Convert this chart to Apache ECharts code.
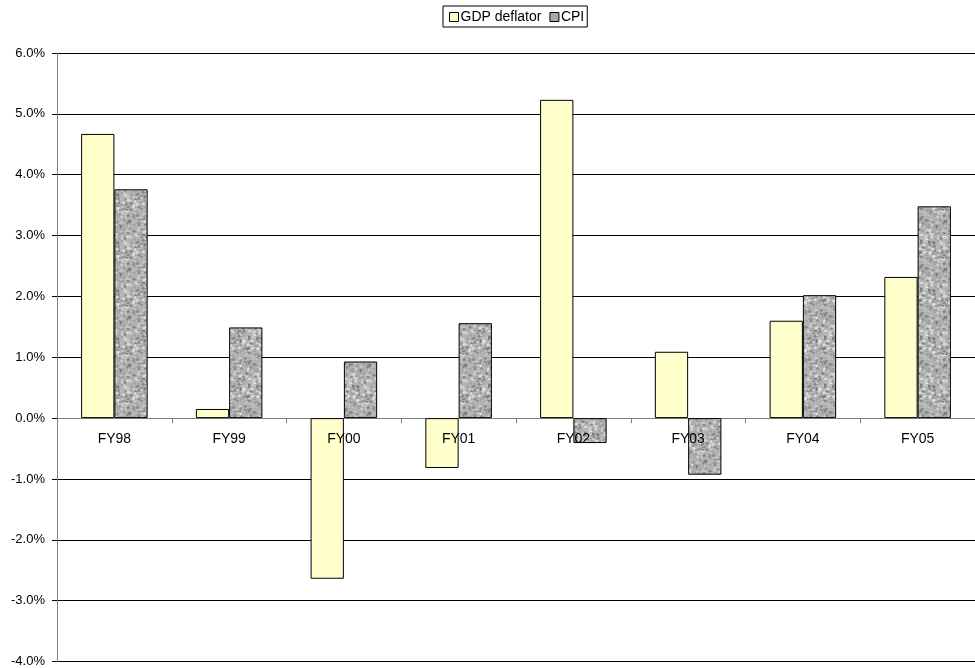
<!DOCTYPE html>
<html>
<head>
<meta charset="utf-8">
<script src="https://cdn.jsdelivr.net/npm/echarts@6/dist/echarts.min.js"></script>
<style>
  html, body { margin: 0; padding: 0; background: #fff; }
  #chart { width: 975px; height: 668px; }
</style>
</head>
<body>
<div id="chart"></div>
<script>
// Fiscal years on the category axis
const categories = ['FY98', 'FY99', 'FY00', 'FY01', 'FY02', 'FY03', 'FY04', 'FY05'];
// Annual change, percent
const gdpDeflator = [4.67, 0.15, -2.64, -0.82, 5.23, 1.09, 1.60, 2.32];
const cpi = [3.76, 1.49, 0.93, 1.56, -0.41, -0.93, 2.02, 3.48];
// Value axis range and step, percent
const yMin = -4, yMax = 6, yStep = 1;

// Plot frame
const gridTop = 53, gridBottom = 6, gridLeft = 57, gridWidth = 926;
const gridHeight = 668 - gridTop - gridBottom;
// Distance of the zero line above the bottom edge of the plot
const zeroLift = (0 - yMin) / (yMax - yMin) * gridHeight;

// Mottled grey fill used for the CPI bars (deterministic texture)
function makeGranite() {
  const size = 48;
  const c = document.createElement('canvas');
  c.width = size; c.height = size;
  const ctx = c.getContext('2d');
  ctx.fillStyle = '#b2b2b2';
  ctx.fillRect(0, 0, size, size);
  let s = 12345;
  const next = () => { s = (s * 1103515245 + 12345) & 0x7fffffff; return s / 0x7fffffff; };
  const tones = ['#8c8c8c', '#9c9c9c', '#cfcfcf', '#c4c4c4', '#7e7e7e', '#dcdcdc', '#a4a4a4'];
  for (let i = 0; i < 420; i++) {
    const x = next() * size, y = next() * size;
    const r = 0.6 + next() * 1.2;
    const k = 0.6 + next() * 0.6;
    ctx.fillStyle = tones[Math.floor(next() * tones.length)];
    for (const dx of [-size, 0, size]) for (const dy of [-size, 0, size]) {
      ctx.beginPath();
      ctx.ellipse(x + dx, y + dy, r, r * k, 0, 0, Math.PI * 2);
      ctx.fill();
    }
  }
  return c;
}
const granite = makeGranite();

const chart = echarts.init(document.getElementById('chart'), null, { renderer: 'canvas' });
const font = '"Liberation Sans", Arial, sans-serif';

chart.setOption({
  animation: false,
  backgroundColor: '#ffffff',
  textStyle: { fontFamily: font },
  legend: {
    top: 6,
    left: 443,
    itemWidth: 9,
    itemHeight: 9,
    itemGap: 8,
    padding: [4, 3, 3, 6],
    borderColor: '#000',
    borderWidth: 1,
    textStyle: { fontFamily: font, fontSize: 14, color: '#000', padding: [0, 0, 0, -3] },
    data: [
      { name: 'GDP deflator', icon: 'rect', itemStyle: { color: '#ffffcc', borderColor: '#000', borderWidth: 1 } },
      { name: 'CPI', icon: 'rect', itemStyle: { color: '#a8a8ae', borderColor: '#000', borderWidth: 1 } }
    ]
  },
  grid: { left: gridLeft, top: gridTop, bottom: gridBottom, width: gridWidth, containLabel: false },
  xAxis: [
    {
      // zero line with boundary ticks
      type: 'category',
      data: categories,
      axisLine: { onZero: true, lineStyle: { color: '#808080', width: 1 } },
      axisTick: { show: true, length: 5, inside: false, lineStyle: { color: '#808080' } },
      axisLabel: { show: false },
      splitLine: { show: false }
    },
    {
      // category names sitting just under the zero line, drawn over the bars
      type: 'category',
      data: categories,
      position: 'bottom',
      offset: -zeroLift,
      z: 10,
      axisLine: { show: false, onZero: false },
      axisTick: { show: false },
      axisLabel: { fontFamily: font, fontSize: 14, color: '#000', margin: 14 },
      splitLine: { show: false }
    }
  ],
  yAxis: {
    type: 'value',
    min: yMin,
    max: yMax,
    interval: yStep,
    axisLine: { show: true, lineStyle: { color: '#808080', width: 1 } },
    axisTick: { show: true, length: 5, lineStyle: { color: '#000' } },
    axisLabel: {
      fontFamily: font, fontSize: 13, color: '#000', margin: 12,
      formatter: v => v.toFixed(1) + '%'
    },
    splitLine: { show: true, lineStyle: { color: '#000', width: 1 } }
  },
  series: [
    {
      name: 'GDP deflator',
      type: 'bar',
      data: gdpDeflator,
      barGap: '0%',
      barCategoryGap: '42%',
      itemStyle: { color: '#ffffcc', borderColor: '#000', borderWidth: 1 }
    },
    {
      name: 'CPI',
      type: 'bar',
      data: cpi,
      barGap: '0%',
      barCategoryGap: '42%',
      itemStyle: {
        color: { image: granite, repeat: 'repeat' },
        borderColor: '#000',
        borderWidth: 1
      }
    }
  ]
});
</script>
</body>
</html>
